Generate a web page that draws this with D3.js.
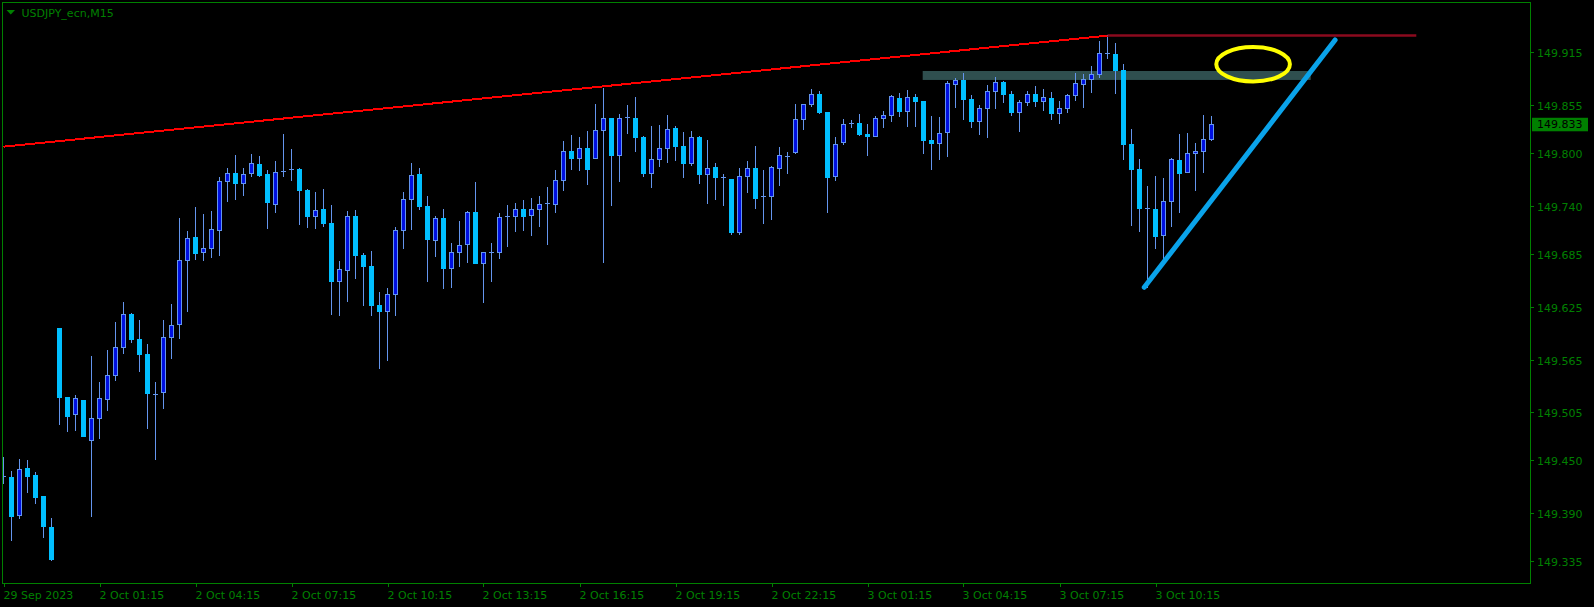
<!DOCTYPE html>
<html>
<head>
<meta charset="utf-8">
<script src="https://cdn.jsdelivr.net/npm/d3@7/dist/d3.min.js"></script>
<style>
  html, body { margin: 0; padding: 0; background: #000; }
  svg { display: block; }
  text { font-family: "DejaVu Sans", sans-serif; font-size: 11px; }
</style>
</head>
<body>
<svg id="chart" width="1594" height="607"></svg>
<script>
// ---- data (USDJPY_ecn, M15) ----
const symbolTitle = "USDJPY_ecn,M15";
const opens = [149.431,149.431,149.388,149.441,149.434,149.410,149.374,149.601,149.522,149.503,
149.519,149.473,149.498,149.520,149.547,149.579,149.617,149.588,149.571,149.526,
149.528,149.591,149.605,149.678,149.705,149.687,149.692,149.713,149.768,149.777,
149.766,149.778,149.788,149.776,149.742,149.779,149.781,149.782,149.758,149.728,
149.736,149.720,149.654,149.667,149.728,149.684,149.672,149.627,149.620,149.640,
149.713,149.748,149.776,149.740,149.701,149.726,149.669,149.687,149.697,149.733,
149.675,149.687,149.688,149.727,149.728,149.736,149.730,149.737,149.742,149.742,
149.769,149.802,149.795,149.806,149.795,149.826,149.840,149.798,149.840,149.840,
149.818,149.778,149.794,149.806,149.829,149.808,149.789,149.818,149.776,149.784,
149.773,149.771,149.710,149.774,149.783,149.750,149.751,149.783,149.797,149.801,
149.839,149.856,149.867,149.847,149.774,149.813,149.833,149.835,149.822,149.820,
149.840,149.844,149.863,149.848,149.864,149.859,149.815,149.812,149.824,149.879,
149.883,149.862,149.837,149.852,149.871,149.881,149.868,149.847,149.858,149.867,
149.859,149.863,149.846,149.851,149.866,149.879,149.885,149.890,149.914,149.913,
149.895,149.811,149.782,149.738,149.737,149.707,149.746,149.792,149.779,149.800,
149.803,149.816];
const highs = [149.454,149.438,149.452,149.450,149.437,149.410,149.385,149.601,149.522,149.525,
149.519,149.569,149.539,149.576,149.608,149.631,149.618,149.610,149.583,149.539,
149.610,149.628,149.726,149.711,149.739,149.731,149.734,149.773,149.783,149.798,
149.783,149.799,149.797,149.781,149.791,149.822,149.805,149.783,149.759,149.756,
149.759,149.741,149.677,149.734,149.735,149.686,149.689,149.642,149.646,149.716,
149.756,149.789,149.783,149.751,149.729,149.737,149.698,149.723,149.734,149.767,
149.687,149.698,149.732,149.741,149.743,149.747,149.749,149.751,149.762,149.781,
149.814,149.821,149.819,149.825,149.856,149.874,149.840,149.845,149.855,149.864,
149.820,149.831,149.832,149.844,149.831,149.824,149.825,149.820,149.815,149.789,
149.776,149.771,149.783,149.791,149.808,149.781,149.785,149.807,149.801,149.856,
149.856,149.873,149.871,149.847,149.819,149.839,149.838,149.845,149.833,149.842,
149.848,149.866,149.869,149.872,149.867,149.859,149.842,149.841,149.882,149.886,
149.891,149.866,149.855,149.878,149.887,149.882,149.871,149.861,149.871,149.877,
149.873,149.870,149.860,149.868,149.891,149.890,149.899,149.928,149.935,149.926,
149.902,149.828,149.793,149.763,149.774,149.772,149.795,149.822,149.823,149.812,
149.844,149.842];
const lows = [149.424,149.359,149.385,149.414,149.401,149.363,149.337,149.491,149.484,149.485,
149.478,149.387,149.476,149.507,149.542,149.572,149.585,149.552,149.487,149.452,
149.510,149.567,149.589,149.620,149.680,149.678,149.682,149.684,149.746,149.748,
149.752,149.774,149.774,149.715,149.733,149.774,149.769,149.719,149.716,149.715,
149.717,149.617,149.616,149.632,149.658,149.627,149.616,149.555,149.564,149.616,
149.692,149.714,149.736,149.654,149.683,149.647,149.648,149.672,149.676,149.675,
149.630,149.654,149.681,149.694,149.711,149.712,149.707,149.717,149.697,149.733,
149.758,149.782,149.781,149.765,149.795,149.676,149.741,149.768,149.823,149.803,
149.774,149.761,149.786,149.790,149.792,149.773,149.787,149.766,149.743,149.748,
149.741,149.708,149.708,149.756,149.738,149.720,149.725,149.764,149.777,149.800,
149.828,149.854,149.846,149.733,149.770,149.811,149.830,149.821,149.798,149.820,
149.830,149.837,149.842,149.831,149.831,149.800,149.782,149.794,149.797,149.853,
149.839,149.830,149.822,149.819,149.851,149.858,149.844,149.825,149.855,149.854,
149.849,149.839,149.835,149.847,149.861,149.853,149.870,149.887,149.908,149.869,
149.794,149.718,149.711,149.648,149.692,149.678,149.717,149.733,149.779,149.758,
149.779,149.815];
const closes = [149.432,149.387,149.440,149.432,149.408,149.375,149.338,149.522,149.501,149.521,
149.478,149.498,149.521,149.547,149.579,149.617,149.588,149.571,149.527,149.525,
149.591,149.604,149.678,149.704,149.686,149.692,149.714,149.768,149.777,149.766,
149.776,149.789,149.775,149.744,149.779,149.780,149.782,149.758,149.729,149.735,
149.721,149.654,149.668,149.728,149.684,149.672,149.627,149.620,149.640,149.713,
149.748,149.775,149.740,149.702,149.726,149.669,149.687,149.696,149.733,149.675,
149.687,149.688,149.727,149.728,149.736,149.729,149.737,149.742,149.743,149.769,
149.802,149.795,149.806,149.782,149.826,149.840,149.798,149.840,149.841,149.818,
149.777,149.793,149.806,149.828,149.808,149.789,149.818,149.776,149.783,149.773,
149.772,149.710,149.774,149.783,149.749,149.751,149.784,149.798,149.796,149.839,
149.856,149.867,149.847,149.773,149.811,149.833,149.834,149.822,149.820,149.840,
149.844,149.865,149.848,149.864,149.860,149.815,149.812,149.823,149.880,149.884,
149.862,149.837,149.852,149.871,149.881,149.868,149.847,149.858,149.867,149.859,
149.864,149.846,149.851,149.866,149.880,149.885,149.890,149.914,149.913,149.895,
149.811,149.782,149.738,149.737,149.706,149.746,149.793,149.778,149.800,149.803,
149.816,149.833];

const priceTicks = [149.915,149.855,149.800,149.740,149.685,149.625,149.565,149.505,149.450,149.390,149.335];
const timeTickIndex = [0,12,24,36,48,60,72,84,96,108,120,132,144];
const timeTickLabels = ["29 Sep 2023","2 Oct 01:15","2 Oct 04:15","2 Oct 07:15","2 Oct 10:15","2 Oct 13:15",
  "2 Oct 16:15","2 Oct 19:15","2 Oct 22:15","3 Oct 01:15","3 Oct 04:15","3 Oct 07:15","3 Oct 10:15"];
const lastPrice = 149.833;

// drawn objects (bar index, price)
const redTrend = [[0, 149.8075], [138, 149.934]];
const darkRedLevel = [[138, 149.934], [176.6, 149.934]];
const grayZone = { from: 114.9, to: 163.4, top: 149.8937, bottom: 149.8835 };
const yellowEllipse = { cx: 156.2, cy: 149.9014, rxBars: 4.6, ryPrice: 0.0196 };
const blueTrend = [[142.6, 149.6473], [166.45, 149.929]];

// ---- layout ----
const W = 1594, H = 607;
const frame = { left: 2.5, top: 2.5, right: 1530.5, bottom: 583.5 };
const GREEN = "#008000";

const svg = d3.select("#chart");
svg.append("rect").attr("width", W).attr("height", H).attr("fill", "#000");

const x = d3.scaleLinear().domain([0, 190]).range([3.5, 1523.5]);
const y = d3.scaleLinear().domain([149.335, 149.915]).range([561.4, 52.3]);

const bars = opens.map((o, i) => ({ i, o, h: highs[i], l: lows[i], c: closes[i] }));

svg.append("clipPath").attr("id", "plot")
  .append("rect").attr("x", frame.left + 0.5).attr("y", frame.top + 0.5)
  .attr("width", frame.right - frame.left - 1).attr("height", frame.bottom - frame.top - 1);

const plot = svg.append("g").attr("clip-path", "url(#plot)");

// background zone
plot.append("rect")
  .attr("x", x(grayZone.from)).attr("y", y(grayZone.top))
  .attr("width", x(grayZone.to) - x(grayZone.from))
  .attr("height", y(grayZone.bottom) - y(grayZone.top))
  .attr("fill", "#2f4f4f");

// candles
const cg = plot.append("g");
bars.forEach(b => {
  const cx = x(b.i);
  cg.append("line")
    .attr("x1", cx).attr("x2", cx)
    .attr("y1", Math.round(y(b.h))).attr("y2", Math.round(y(b.l)) + 1)
    .attr("stroke", "#6495ed").attr("stroke-width", 1)
    .attr("shape-rendering", "crispEdges");
  const top = Math.round(y(Math.max(b.o, b.c)));
  const bot = Math.round(y(Math.min(b.o, b.c)));
  if (bot - top < 2) {
    cg.append("rect").attr("x", cx - 2.5).attr("y", top).attr("width", 5).attr("height", 1)
      .attr("fill", "#6495ed").attr("shape-rendering", "crispEdges");
  } else if (b.c >= b.o) {
    cg.append("rect").attr("x", cx - 2).attr("y", top + 0.5).attr("width", 4).attr("height", bot - top)
      .attr("fill", "#0010e0").attr("stroke", "#6495ed").attr("stroke-width", 1)
      .attr("shape-rendering", "crispEdges");
  } else {
    cg.append("rect").attr("x", cx - 2.5).attr("y", top).attr("width", 5).attr("height", bot - top + 1)
      .attr("fill", "#00bfff").attr("shape-rendering", "crispEdges");
  }
});

// objects
const line = d3.line().x(d => x(d[0])).y(d => y(d[1]));
plot.append("path").attr("d", line(redTrend)).attr("fill", "none")
  .attr("stroke", "#ff0000").attr("stroke-width", 2).attr("shape-rendering", "crispEdges");
plot.append("path").attr("d", line(darkRedLevel)).attr("fill", "none")
  .attr("stroke", "#8b0a1e").attr("stroke-width", 2.5);
plot.append("ellipse")
  .attr("cx", x(yellowEllipse.cx)).attr("cy", y(yellowEllipse.cy))
  .attr("rx", x(yellowEllipse.cx + yellowEllipse.rxBars) - x(yellowEllipse.cx))
  .attr("ry", y(yellowEllipse.cy - yellowEllipse.ryPrice) - y(yellowEllipse.cy))
  .attr("fill", "none").attr("stroke", "#ffff00").attr("stroke-width", 4);
plot.append("path").attr("d", line(blueTrend)).attr("fill", "none")
  .attr("stroke", "#0aa3ea").attr("stroke-width", 5).attr("stroke-linecap", "round");

// frame
svg.append("rect")
  .attr("x", frame.left).attr("y", frame.top)
  .attr("width", frame.right - frame.left).attr("height", frame.bottom - frame.top)
  .attr("fill", "none").attr("stroke", GREEN).attr("stroke-width", 1);

// price axis
const pa = svg.append("g");
priceTicks.forEach(p => {
  const yy = Math.round(y(p)) + 0.5;
  pa.append("line").attr("x1", frame.right).attr("x2", frame.right + 3.5)
    .attr("y1", yy).attr("y2", yy).attr("stroke", GREEN);
  pa.append("text").attr("x", 1537).attr("y", yy + 4).attr("fill", GREEN).text(d3.format(".3f")(p));
});
// last price label
const ly = y(lastPrice);
pa.append("rect").attr("x", 1532).attr("y", ly - 6.5).attr("width", 56).attr("height", 13.5).attr("fill", GREEN);
pa.append("text").attr("x", 1537).attr("y", ly + 4).attr("fill", "#000").text(d3.format(".3f")(lastPrice));

// time axis
const ta = svg.append("g");
timeTickIndex.forEach((idx, k) => {
  const xx = Math.round(x(idx)) + 0.5;
  ta.append("line").attr("x1", xx).attr("x2", xx).attr("y1", frame.bottom).attr("y2", frame.bottom + 3.5)
    .attr("stroke", GREEN);
  ta.append("text").attr("x", xx - 1).attr("y", 599).attr("fill", GREEN).text(timeTickLabels[k]);
});

// title
svg.append("path").attr("d", "M6.5,10 L15,10 L10.75,14.5 Z").attr("fill", GREEN);
svg.append("text").attr("x", 21.5).attr("y", 16.7).attr("fill", GREEN).text(symbolTitle);
</script>
</body>
</html>
